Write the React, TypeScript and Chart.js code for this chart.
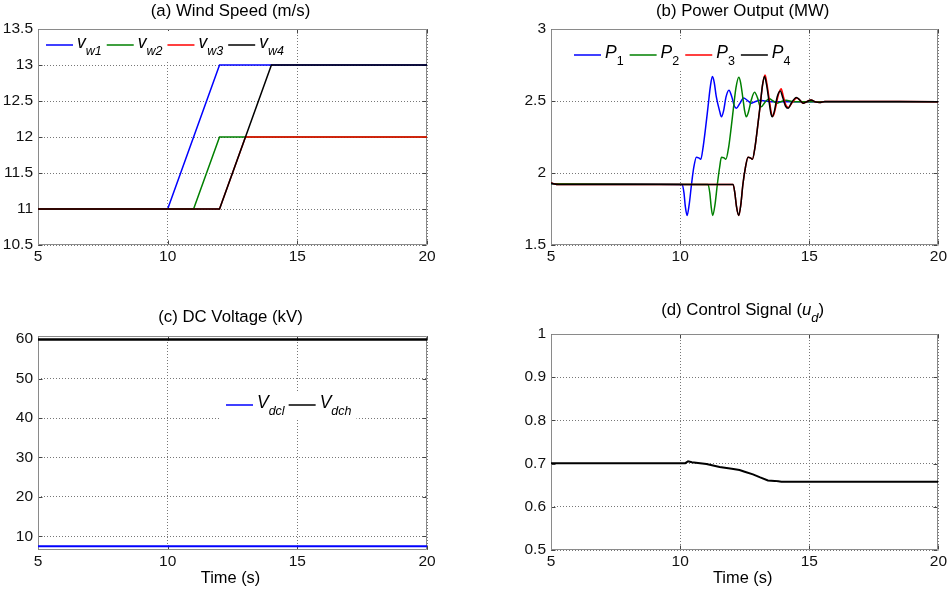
import React, { useEffect, useRef } from "react";
import { Chart, registerables } from "chart.js";
Chart.register(...registerables);

const FONT = '"Liberation Sans", Arial, Helvetica, sans-serif';

// ---------- shared ticks ----------
const TIME_TICKS = [5, 10, 15, 20];

// ---------- (a) wind speed ----------
const WIND_TICKS = [10.5, 11, 11.5, 12, 12.5, 13, 13.5];
const VW1_T = [5, 10, 12, 20];
const VW1 = [11, 11, 13, 13];
const VW2_T = [5, 11, 12, 20];
const VW2 = [11, 11, 12, 12];
const VW3_T = [5, 12, 13, 20];
const VW3 = [11, 11, 12, 12];
const VW4_T = [5, 12, 14, 20];
const VW4 = [11, 11, 13, 13];

// ---------- (b) power output ----------
const POWER_TICKS = [1.5, 2, 2.5, 3];
const P1_T = [5, 10.08, 10.15, 10.2, 10.27, 10.35, 10.44, 10.53, 10.63, 10.72, 10.8, 10.89, 10.99, 11.08, 11.17, 11.25, 11.32, 11.4, 11.53, 11.6, 11.68, 11.78, 11.89, 12.0, 12.1, 12.18, 12.3, 12.46, 12.6, 12.75, 12.9, 13.1, 13.3, 13.6, 20];
const P1 = [1.925, 1.92, 1.86, 1.77, 1.705, 1.78, 1.92, 2.04, 2.11, 2.105, 2.095, 2.18, 2.32, 2.46, 2.6, 2.67, 2.63, 2.53, 2.43, 2.39, 2.43, 2.53, 2.575, 2.53, 2.465, 2.45, 2.48, 2.52, 2.505, 2.485, 2.495, 2.505, 2.5, 2.495, 2.495];
const P2_T = [5, 11.08, 11.15, 11.2, 11.26, 11.35, 11.44, 11.53, 11.6, 11.7, 11.77, 11.88, 11.98, 12.07, 12.16, 12.27, 12.34, 12.43, 12.5, 12.56, 12.64, 12.76, 12.88, 13.0, 13.08, 13.14, 13.28, 13.45, 13.6, 13.75, 13.9, 14.1, 14.4, 20];
const P2 = [1.925, 1.92, 1.86, 1.77, 1.705, 1.78, 1.92, 2.04, 2.11, 2.105, 2.095, 2.18, 2.32, 2.46, 2.59, 2.665, 2.63, 2.52, 2.43, 2.39, 2.42, 2.51, 2.56, 2.52, 2.47, 2.46, 2.49, 2.515, 2.5, 2.485, 2.495, 2.505, 2.495, 2.495];
const P3_T = [5, 5.3, 12.05, 12.12, 12.18, 12.27, 12.35, 12.43, 12.53, 12.63, 12.72, 12.8, 12.9, 13.0, 13.1, 13.2, 13.29, 13.36, 13.46, 13.54, 13.6, 13.68, 13.8, 13.91, 14.0, 14.1, 14.2, 14.34, 14.52, 14.64, 14.76, 14.9, 15.07, 15.22, 15.4, 15.6, 20];
const P3 = [1.93, 1.92, 1.92, 1.86, 1.77, 1.705, 1.78, 1.92, 2.04, 2.11, 2.105, 2.095, 2.18, 2.32, 2.47, 2.62, 2.68, 2.62, 2.5, 2.41, 2.395, 2.44, 2.54, 2.585, 2.53, 2.47, 2.455, 2.49, 2.52, 2.505, 2.485, 2.495, 2.507, 2.495, 2.49, 2.497, 2.495];
const P4_T = [5, 5.3, 12.05, 12.12, 12.18, 12.27, 12.35, 12.43, 12.53, 12.63, 12.72, 12.8, 12.9, 13.0, 13.1, 13.19, 13.27, 13.34, 13.44, 13.52, 13.57, 13.65, 13.76, 13.88, 13.98, 14.08, 14.18, 14.32, 14.5, 14.62, 14.76, 14.9, 15.07, 15.22, 15.4, 15.6, 20];
const P4 = [1.93, 1.92, 1.92, 1.86, 1.77, 1.705, 1.78, 1.92, 2.04, 2.11, 2.105, 2.095, 2.18, 2.32, 2.47, 2.61, 2.67, 2.62, 2.5, 2.41, 2.39, 2.43, 2.53, 2.57, 2.52, 2.465, 2.45, 2.49, 2.525, 2.51, 2.485, 2.495, 2.507, 2.495, 2.49, 2.497, 2.495];

// ---------- (c) DC voltage ----------
const VDC_TICKS = [10, 20, 30, 40, 50, 60];
const VDC_T = [5, 20];
const VDCL = [7.5, 7.5];
const VDCH = [59.9, 59.9];

// ---------- (d) control signal ----------
const UD_TICKS = [0.5, 0.6, 0.7, 0.8, 0.9, 1];
const UD_T = [5, 10.2, 10.31, 10.45, 11.02, 11.53, 12.0, 12.3, 12.5, 12.82, 13.1, 13.4, 13.66, 13.8, 13.92, 14.5, 20];
const UD = [0.701, 0.701, 0.7055, 0.703, 0.699, 0.692, 0.688, 0.685, 0.681, 0.675, 0.668, 0.661, 0.66, 0.659, 0.658, 0.658, 0.658];

const BLUE = "#0000ff";
const GREEN = "#008000";
const RED = "#ff0000";
const BLACK = "#000000";

type Seg = { t: string; it?: boolean; sub?: boolean };

const pts = (t: number[], v: number[]) => t.map((x, i) => ({ x, y: v[i] }));

function segFont(s: Seg, size: number, subSize: number) {
  return `${s.it ? "italic " : ""}${s.sub ? subSize : size}px ${FONT}`;
}

function richWidth(ctx: CanvasRenderingContext2D, segs: Seg[], size: number, subSize: number) {
  let w = 0;
  for (const s of segs) {
    ctx.font = segFont(s, size, subSize);
    w += ctx.measureText(s.t).width;
  }
  return w;
}

function drawRich(
  ctx: CanvasRenderingContext2D,
  segs: Seg[],
  x: number,
  y: number,
  size: number,
  subSize: number,
  subDy: number
) {
  ctx.textBaseline = "middle";
  ctx.textAlign = "left";
  let cx = x;
  for (const s of segs) {
    ctx.font = segFont(s, size, subSize);
    ctx.fillText(s.t, cx, s.sub ? y + subDy : y);
    cx += ctx.measureText(s.t).width;
  }
  return cx;
}

type LegendItem = { color: string; label: Seg[] };

type PanelSpec = {
  key: string;
  canvas: { left: number; top: number; width: number; height: number };
  plot: { l: number; t: number; r: number; b: number };
  yMin: number;
  yMax: number;
  yTicks: number[];
  datasets: any[];
  title: Seg[];
  titleY: number;
  xlabel?: string;
  legend: { items: LegendItem[]; dx: number; dy: number; gap: number };
};

const PANELS: PanelSpec[] = [
  {
    key: "a",
    canvas: { left: 0, top: 0, width: 474, height: 290 },
    plot: { l: 38, t: 29, r: 427, b: 245 },
    yMin: 10.5,
    yMax: 13.5,
    yTicks: WIND_TICKS,
    datasets: [
      { data: pts(VW1_T, VW1), borderColor: BLUE, order: 3 },
      { data: pts(VW2_T, VW2), borderColor: GREEN, order: 2 },
      { data: pts(VW3_T, VW3), borderColor: RED, order: 1 },
      { data: pts(VW4_T, VW4), borderColor: BLACK, order: 0 },
    ],
    title: [{ t: "(a) Wind Speed (m/s)" }],
    titleY: 11.7,
    legend: {
      items: [
        { color: BLUE, label: [{ t: "v", it: true }, { t: "w1", it: true, sub: true }] },
        { color: GREEN, label: [{ t: "v", it: true }, { t: "w2", it: true, sub: true }] },
        { color: RED, label: [{ t: "v", it: true }, { t: "w3", it: true, sub: true }] },
        { color: BLACK, label: [{ t: "v", it: true }, { t: "w4", it: true, sub: true }] },
      ],
      dx: 8,
      dy: 16,
      gap: 5,
    },
  },
  {
    key: "b",
    canvas: { left: 474, top: 0, width: 475, height: 290 },
    plot: { l: 551, t: 29, r: 939, b: 245 },
    yMin: 1.5,
    yMax: 3,
    yTicks: POWER_TICKS,
    datasets: [
      { data: pts(P1_T, P1), borderColor: BLUE, order: 3, cubicInterpolationMode: "monotone" },
      { data: pts(P2_T, P2), borderColor: GREEN, order: 2, cubicInterpolationMode: "monotone" },
      { data: pts(P3_T, P3), borderColor: RED, order: 1, cubicInterpolationMode: "monotone" },
      { data: pts(P4_T, P4), borderColor: BLACK, order: 0, cubicInterpolationMode: "monotone" },
    ],
    title: [{ t: "(b) Power Output (MW)" }],
    titleY: 11.7,
    legend: {
      items: [
        { color: BLUE, label: [{ t: "P", it: true }, { t: "1", sub: true }] },
        { color: GREEN, label: [{ t: "P", it: true }, { t: "2", sub: true }] },
        { color: RED, label: [{ t: "P", it: true }, { t: "3", sub: true }] },
        { color: BLACK, label: [{ t: "P", it: true }, { t: "4", sub: true }] },
      ],
      dx: 23,
      dy: 26,
      gap: 6,
    },
  },
  {
    key: "c",
    canvas: { left: 0, top: 290, width: 474, height: 300 },
    plot: { l: 38, t: 336, r: 427, b: 550 },
    yMin: 6.55,
    yMax: 60.8,
    yTicks: VDC_TICKS,
    datasets: [
      { data: pts(VDC_T, VDCL), borderColor: BLUE, order: 1, borderWidth: 2 },
      { data: pts(VDC_T, VDCH), borderColor: BLACK, order: 0, borderWidth: 2.5 },
    ],
    title: [{ t: "(c) DC Voltage (kV)" }],
    titleY: 317,
    xlabel: "Time (s)",
    legend: {
      items: [
        { color: BLUE, label: [{ t: "V", it: true }, { t: "dcl", it: true, sub: true }] },
        { color: BLACK, label: [{ t: "V", it: true }, { t: "dch", it: true, sub: true }] },
      ],
      dx: 188,
      dy: 69,
      gap: 4,
    },
  },
  {
    key: "d",
    canvas: { left: 474, top: 290, width: 475, height: 300 },
    plot: { l: 551, t: 334, r: 939, b: 550 },
    yMin: 0.5,
    yMax: 1,
    yTicks: UD_TICKS,
    datasets: [{ data: pts(UD_T, UD), borderColor: BLACK, order: 0, borderWidth: 2 }],
    title: [{ t: "(d) Control Signal (" }, { t: "u", it: true }, { t: "d", it: true, sub: true }, { t: ")" }],
    titleY: 310,
    xlabel: "Time (s)",
    legend: { items: [], dx: 0, dy: 0, gap: 0 },
  },
];

const TITLE_SIZE = 16.8;
const TICK_SIZE = 15.5;
const GRID_COLOR = "#777777";
const BOX_COLOR = "#8a8a8a";
const TICKMARK_COLOR = "#444444";

function Panel({ spec }: { spec: PanelSpec }) {
  const ref = useRef<HTMLCanvasElement | null>(null);

  useEffect(() => {
    const canvas = ref.current;
    if (!canvas) return;
    const c = spec.canvas;
    const p = spec.plot;
    const yAxisW = p.l - c.left;
    const xAxisH = c.top + c.height - p.b;
    const padTop = p.t - c.top;
    const padRight = c.left + c.width - p.r;

    const decor = {
      id: "decor_" + spec.key,
      beforeDatasetsDraw(chart: any) {
        const ctx = chart.ctx as CanvasRenderingContext2D;
        const a = chart.chartArea;
        const L = Math.round(a.left) + 0.5;
        const T = Math.round(a.top) + 0.5;
        const R = Math.round(a.right) - 0.5;
        const B = Math.round(a.bottom) - 0.5;
        ctx.save();
        // inward tick marks
        ctx.strokeStyle = TICKMARK_COLOR;
        ctx.lineWidth = 1;
        ctx.beginPath();
        const xs = chart.scales.x;
        const ys = chart.scales.y;
        for (const v of TIME_TICKS) {
          const px = Math.round(xs.getPixelForValue(v)) + 0.5;
          ctx.moveTo(px, B);
          ctx.lineTo(px, B - 4);
          ctx.moveTo(px, T);
          ctx.lineTo(px, T + 4);
        }
        for (const v of spec.yTicks) {
          const py = Math.round(ys.getPixelForValue(v)) + 0.5;
          ctx.moveTo(L, py);
          ctx.lineTo(L + 4, py);
          ctx.moveTo(R, py);
          ctx.lineTo(R - 4, py);
        }
        ctx.stroke();
        // axes box
        ctx.strokeStyle = BOX_COLOR;
        ctx.beginPath();
        ctx.rect(L, T, R - L, B - T);
        ctx.stroke();
        ctx.restore();
      },
      afterDraw(chart: any) {
        const ctx = chart.ctx as CanvasRenderingContext2D;
        const a = chart.chartArea;
        ctx.save();
        ctx.fillStyle = "#000";
        // title
        const tw = richWidth(ctx, spec.title, TITLE_SIZE, 13);
        const cx = (a.left + a.right) / 2 - 2;
        drawRich(ctx, spec.title, cx - tw / 2, spec.titleY - c.top, TITLE_SIZE, 13, 8);
        // x label
        if (spec.xlabel) {
          ctx.font = `16.4px ${FONT}`;
          ctx.textAlign = "center";
          ctx.textBaseline = "middle";
          ctx.fillText(spec.xlabel, cx, p.b + 28 - c.top);
        }
        // legend
        const lg = spec.legend;
        if (lg.items.length) {
          const lineLen = 27;
          const x0 = a.left + lg.dx;
          const y0 = a.top + lg.dy;
          let total = 0;
          for (const it of lg.items) total += lineLen + 4 + richWidth(ctx, it.label, 17.5, 12.5) + lg.gap;
          ctx.fillStyle = "#fff";
          ctx.fillRect(x0 - 5, y0 - 14, total + 6, 29);
          let x = x0;
          for (const it of lg.items) {
            ctx.strokeStyle = it.color;
            ctx.lineWidth = 1.5;
            ctx.beginPath();
            ctx.moveTo(x, y0);
            ctx.lineTo(x + lineLen, y0);
            ctx.stroke();
            ctx.fillStyle = "#000";
            const end = drawRich(ctx, it.label, x + lineLen + 4, y0 - 2.3, 17.5, 12.5, 9);
            x = end + lg.gap;
          }
        }
        ctx.restore();
      },
    };

    const tickFont = { family: FONT, size: TICK_SIZE };
    const chart = new Chart(canvas, {
      type: "line",
      data: {
        datasets: spec.datasets.map((d) => ({
          borderWidth: 1.5,
          pointRadius: 0,
          fill: false,
          tension: 0,
          ...d,
        })),
      },
      options: {
        animation: false,
        responsive: false,
        maintainAspectRatio: false,
        events: [],
        layout: { padding: { left: 0, top: padTop, right: padRight, bottom: 0 } },
        plugins: {
          legend: { display: false },
          title: { display: false },
          tooltip: { enabled: false },
        },
        scales: {
          x: {
            type: "linear",
            min: 5,
            max: 20,
            afterBuildTicks: (s: any) => {
              s.ticks = TIME_TICKS.map((v) => ({ value: v }));
            },
            afterFit: (s: any) => {
              s.height = xAxisH;
            },
            ticks: {
              callback: (v: any) => String(v),
              font: tickFont,
              color: "#111",
              padding: 2,
              maxRotation: 0,
              autoSkip: false,
            },
            grid: { color: GRID_COLOR, drawTicks: false, lineWidth: 1 },
            border: { display: false, dash: [1, 2] },
          },
          y: {
            type: "linear",
            min: spec.yMin,
            max: spec.yMax,
            afterBuildTicks: (s: any) => {
              s.ticks = spec.yTicks.map((v) => ({ value: v }));
            },
            afterFit: (s: any) => {
              s.width = yAxisW;
            },
            ticks: {
              callback: (v: any) => String(v),
              font: tickFont,
              color: "#111",
              padding: 5,
              autoSkip: false,
            },
            grid: { color: GRID_COLOR, drawTicks: false, lineWidth: 1 },
            border: { display: false, dash: [1, 2] },
          },
        },
      } as any,
      plugins: [decor],
    });
    return () => chart.destroy();
  }, [spec]);

  const c = spec.canvas;
  return (
    <canvas
      ref={ref}
      width={c.width}
      height={c.height}
      style={{ position: "absolute", left: c.left, top: c.top, width: c.width, height: c.height }}
    />
  );
}

export default function App() {
  return (
    <div style={{ position: "absolute", left: 0, top: 0, width: 949, height: 590, background: "#fff", overflow: "hidden" }}>
      {PANELS.map((s) => (
        <Panel key={s.key} spec={s} />
      ))}
    </div>
  );
}
